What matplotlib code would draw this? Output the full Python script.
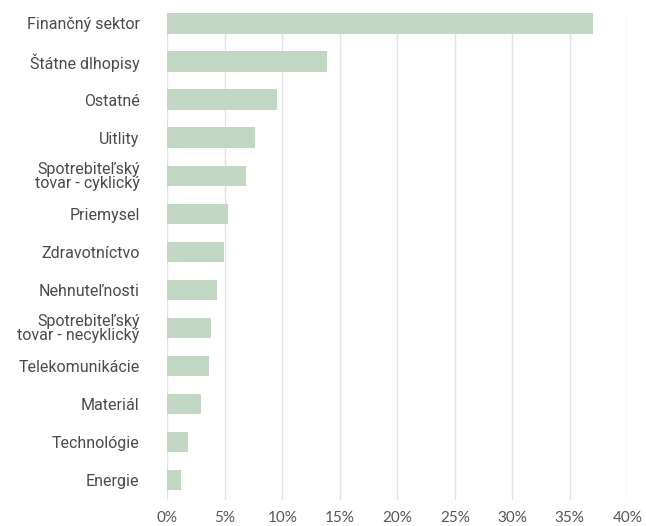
import matplotlib.pyplot as plt
from matplotlib.ticker import PercentFormatter

sectors = ['Finančný sektor', 'Štátne dlhopisy', 'Ostatné', 'Uitlity',
           'Spotrebiteľský\ntovar - cyklický', 'Priemysel', 'Zdravotníctvo',
           'Nehnuteľnosti', 'Spotrebiteľský\ntovar - necyklický',
           'Telekomunikácie', 'Materiál', 'Technológie', 'Energie']
weights = [37.0, 13.9, 9.5, 7.6, 6.8, 5.3, 4.9, 4.3, 3.8, 3.6, 2.9, 1.8, 1.15]
xticks = [0, 5, 10, 15, 20, 25, 30, 35, 40]

plt.rcParams['font.family'] = ['Roboto', 'DejaVu Sans']

fig = plt.figure(figsize=(6.46, 5.26), dpi=100)
ax = fig.add_axes([0.259, 0.049, 0.712, 0.926])

pos = list(range(len(sectors)))
ax.barh(pos, weights, height=0.53, color='#c2d6c4', zorder=2)

ax.set_xlim(0, 40)
ax.set_ylim(12.53, -0.27)
ax.set_xticks(xticks)
ax.xaxis.set_major_formatter(PercentFormatter(decimals=0))
ax.set_yticks(pos)
ax.set_yticklabels(sectors, linespacing=0.9)

ax.grid(axis='x', color='#e2e2e2', linewidth=1, zorder=0)
for s in ax.spines.values():
    s.set_visible(False)
ax.tick_params(axis='y', length=0, pad=20, labelsize=11.5, labelcolor='#4a4a4a')
ax.tick_params(axis='x', length=0, pad=8, labelsize=11, labelcolor='#555555')
for t in ax.get_xticklabels():
    t.set_fontfamily(['Lato', 'DejaVu Sans'])

fig.savefig('out.png', dpi=100)
